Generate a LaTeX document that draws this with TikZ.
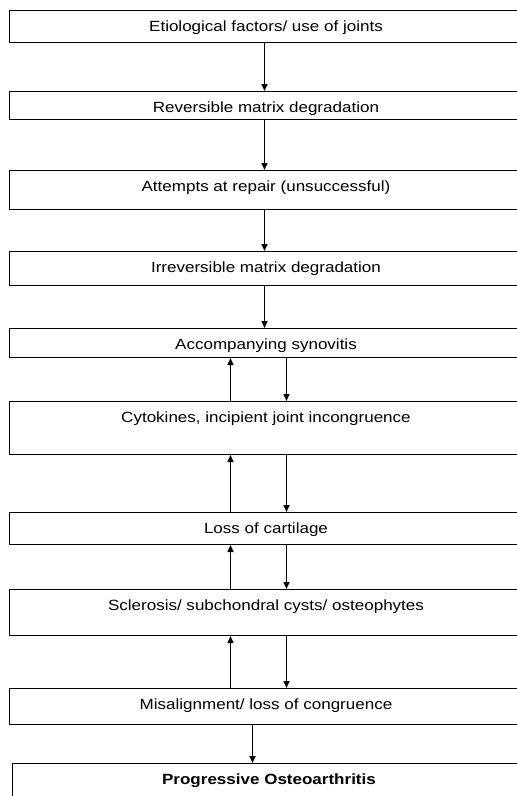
\documentclass[tikz,border=0pt]{standalone}
\usepackage{fontspec}
\setmainfont{Liberation Sans}[FakeStretch=1.15]
\usepackage{tikz}
\usetikzlibrary{arrows.meta,positioning}

\begin{document}
\begin{tikzpicture}[x=1pt,y=-1pt,>={Triangle[length=7pt,width=6pt]},
	stage/.style={draw, line width=1pt, anchor=north west, inner sep=0pt, minimum width=513pt, text height=20.5pt, font=\fontsize{14.8}{17}\selectfont},
	flow/.style={->, line width=1.5pt}]
	\useasboundingbox (0,0) rectangle (517,796);
	
	\node[stage, text depth=11.5pt] (etiol) at (9,10) {Etiological factors/ use of joints};
	\node[stage, text depth=7.5pt] (revdeg) at (9,91) {Reversible matrix degradation};
	\node[stage, text depth=18.5pt] (repair) at (9,170) {Attempts at repair (unsuccessful)};
	\node[stage, text depth=13.5pt] (irrdeg) at (9,251) {Irreversible matrix degradation};
	\node[stage, text depth=8.5pt] (synov) at (9,328) {Accompanying synovitis};
	\node[stage, text depth=32.5pt] (cytok) at (9,401) {Cytokines, incipient joint incongruence};
	\node[stage, text depth=11.5pt] (cartil) at (9,512) {Loss of cartilage};
	\node[stage, text depth=25.5pt] (scler) at (9,589) {Sclerosis/ subchondral cysts/ osteophytes};
	\node[stage, text depth=15.5pt] (misal) at (9,688) {Misalignment/ loss of congruence};
	\node[stage, text depth=29.5pt] (progoa) at (12,763) {\bfseries Progressive Osteoarthritis};
	
	% straight chain
	\draw[flow] ([xshift=-1.5pt]etiol.south) -- ([xshift=-1.5pt]revdeg.north);
	\draw[flow] ([xshift=-1.5pt]revdeg.south) -- ([xshift=-1.5pt]repair.north);
	\draw[flow] ([xshift=-1.5pt]repair.south) -- ([xshift=-1.5pt]irrdeg.north);
	\draw[flow] ([xshift=-1.5pt]irrdeg.south) -- ([xshift=-1.5pt]synov.north);
	
	% feedback pairs
	\draw[flow] ([xshift=-35.5pt]cytok.north) -- ([xshift=-35.5pt]synov.south);
	\draw[flow] ([xshift=20.5pt]synov.south) -- ([xshift=20.5pt]cytok.north);
	\draw[flow] ([xshift=-35.5pt]cartil.north) -- ([xshift=-35.5pt]cytok.south);
	\draw[flow] ([xshift=20.5pt]cytok.south) -- ([xshift=20.5pt]cartil.north);
	\draw[flow] ([xshift=-35.5pt]scler.north) -- ([xshift=-35.5pt]cartil.south);
	\draw[flow] ([xshift=20.5pt]cartil.south) -- ([xshift=20.5pt]scler.north);
	\draw[flow] ([xshift=-35.5pt]misal.north) -- ([xshift=-35.5pt]scler.south);
	\draw[flow] ([xshift=20.5pt]scler.south) -- ([xshift=20.5pt]misal.north);
	
	\draw[flow] ([xshift=-13.5pt]misal.south) -- ([xshift=-16.5pt]progoa.north);
\end{tikzpicture}
\end{document}
